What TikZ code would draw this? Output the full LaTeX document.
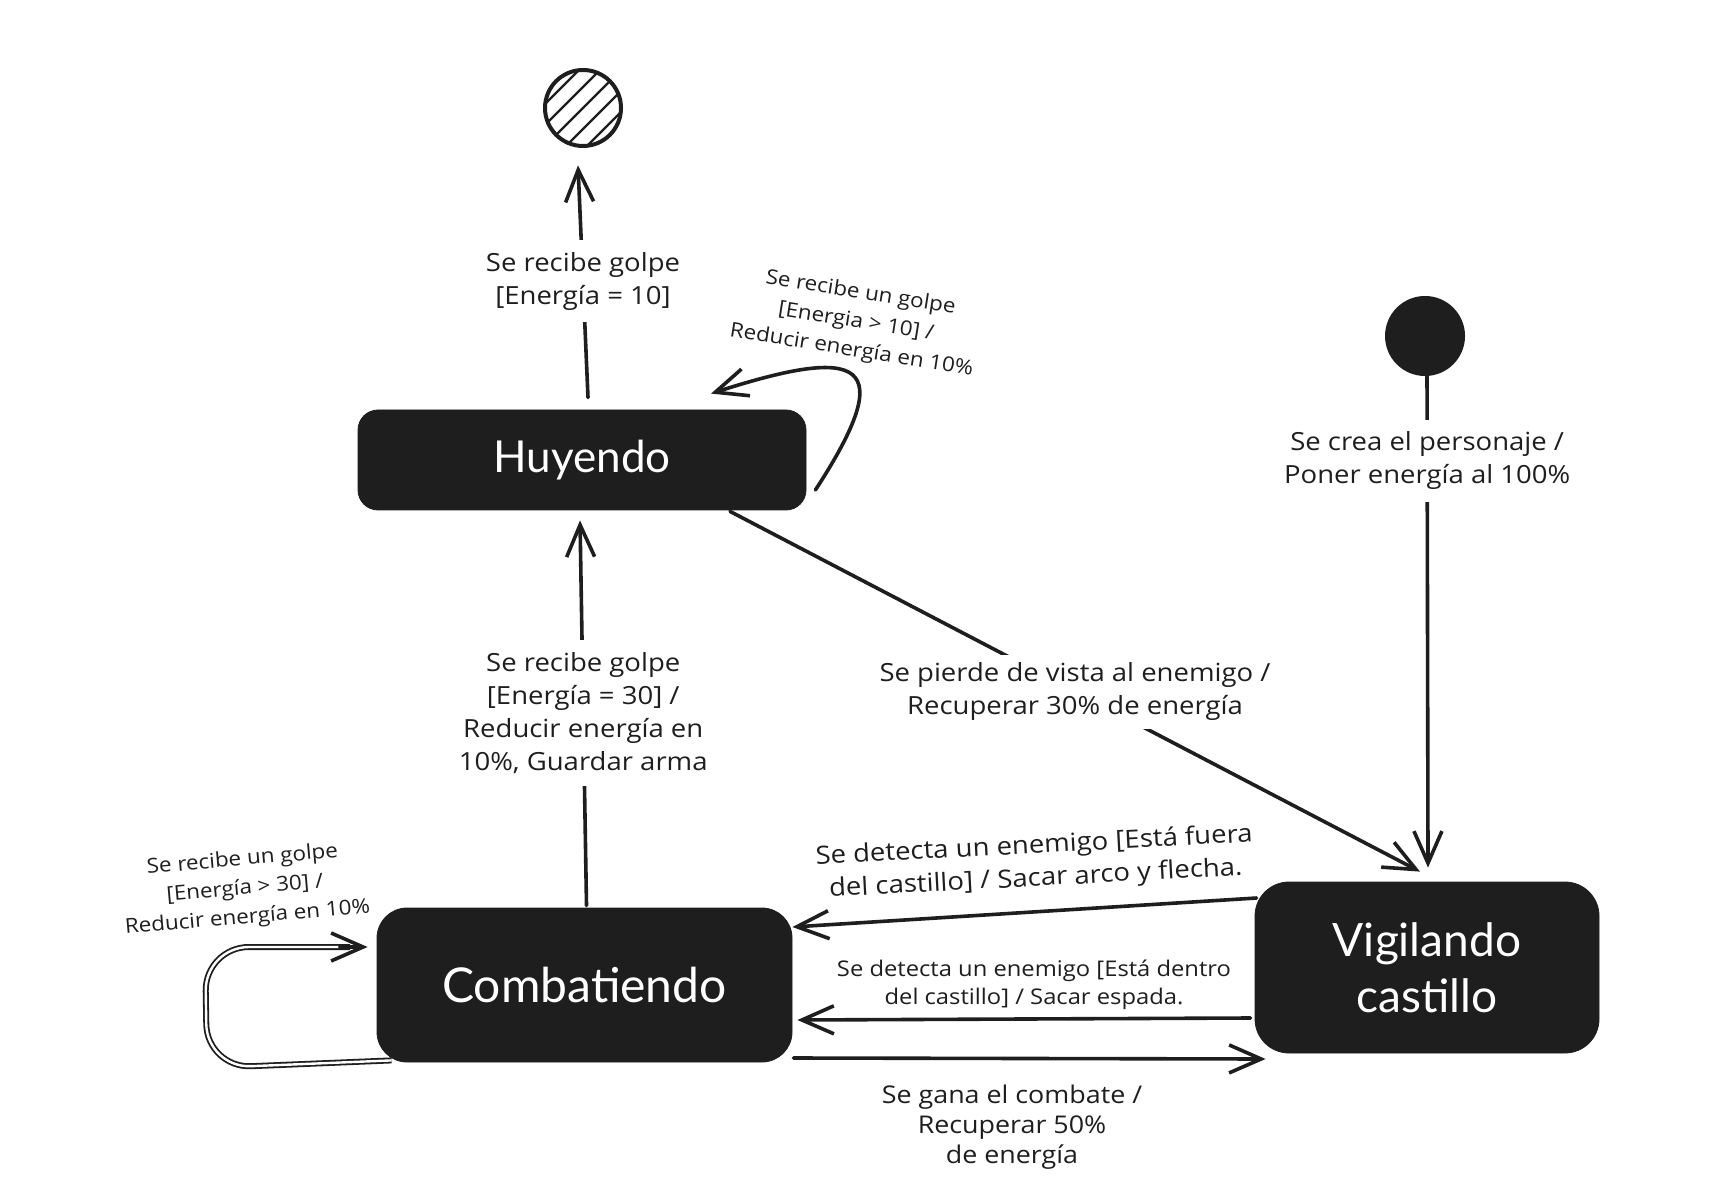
\documentclass[tikz,border=0pt]{standalone}
\usepackage{fontspec}
\setmainfont{Open Sans}[FakeStretch=1.1]
\newfontfamily\boxfont{Lato}
\usetikzlibrary{arrows.meta,calc}
\definecolor{ink}{HTML}{1E1E1E}
\begin{document}
\begin{tikzpicture}[x=0.5pt,y=-0.5pt,
  state/.style={fill=ink, draw=ink, text=white, align=center, inner sep=0pt},
  tipA/.tip={Straight Barb[length=16pt,width=14pt]},
  arr/.style={draw=ink, line width=1.8pt, line cap=round, -tipA},
  lbl/.style={font=\fontsize{12.5}{16.5}\selectfont, align=center, fill=white, inner sep=6pt, text=ink},
  mlbl/.style={font=\fontsize{10.8}{14}\selectfont, align=center, text=ink},
  slbl/.style={font=\fontsize{10.2}{14.5}\selectfont, align=center, text=ink},
]
\fill[white] (0,0) rectangle (1716,1186);
\useasboundingbox (0,0) rectangle (1716,1186);

% states
\node[state, minimum width=224pt, minimum height=50pt, rounded corners=10pt,
      font=\boxfont\fontsize{22}{26}\selectfont] (H) at (582,460) {Huyendo};
\node[state, minimum width=207.5pt, minimum height=77pt, rounded corners=15pt,
      font=\boxfont\fontsize{24}{28}\selectfont] (C) at (584.5,985) {Combatiendo};
\node[state, minimum width=172pt, minimum height=85.5pt, rounded corners=17pt,
      font=\boxfont\fontsize{23}{28}\selectfont] (V) at (1427,967.5) {Vigilando\\castillo};

% final state (hatched)
\node[circle, minimum size=38pt, inner sep=0pt] (F) at (583,108) {};
\begin{scope}
  \clip (F.center) circle [radius=19pt];
  \foreach \k in {-3,...,3}
    \draw[ink, line width=1.1pt] ($(F.center)+(\k*21,0)+(-60,60)$) -- ($(F.center)+(\k*21,0)+(60,-60)$);
\end{scope}
\draw[ink, line width=2pt] (F.center) circle [radius=19pt];

% initial state
\node[circle, fill=ink, minimum size=40pt, inner sep=0pt] (I) at (1425,336) {};

% connector anchors
\coordinate (h1) at ($(H.north)+(6,-12)$);
\coordinate (f1) at ($(F.south)+(-5,19)$);
\coordinate (c1) at ($(C.north)+(2,-2)$);
\coordinate (h2) at ($(H.south)+(-2,10)$);
\coordinate (h3) at ($(H.south)+(148,1)$);
\coordinate (v1) at ($(V.north)+(-7,-10)$);
\coordinate (i1) at ($(I.south)+(2,0)$);
\coordinate (v2) at ($(V.north)+(1,-14)$);
\coordinate (v3) at ($(V.west)+(2,-69.5)$);
\coordinate (c2) at ($(C.east)+(0,-58)$);
\coordinate (v4) at ($(V.west)+(-4,50.5)$);
\coordinate (c3) at ($(C.east)+(5,35)$);
\coordinate (c4) at ($(C.east)+(1,73)$);
\coordinate (v5) at ($(V.west)+(11,91.5)$);
\coordinate (hl1) at ($(H.east)+(9,30)$);
\coordinate (hl2) at ($(H.north)+(129,-16)$);
\coordinate (cl1) at ($(C.south west)+(15,-2)$);
\coordinate (cl2) at ($(C.west)+(-9,-38)$);

% Huyendo -> final
\draw[arr] (h1) -- node[lbl] {Se recibe golpe\\{}[Energía = 10]} (f1);

% Huyendo self loop
\draw[arr] (hl1) .. controls (900,360) and (862,345) .. (hl2);
\node[slbl, rotate=-9] (lh) at (856,322) {Se recibe un golpe\\{}[Energia > 10] /\\Reducir energía en 10\%};

% Combatiendo -> Huyendo
\draw[arr] (c1) -- node[lbl] {Se recibe golpe\\{}[Energía = 30] /\\Reducir energía en\\10\%, Guardar arma} (h2);

% Huyendo -> Vigilando
\draw[arr] (h3) -- node[lbl, inner sep=4pt, pos=0.5] {Se pierde de vista al enemigo /\\Recuperar 30\% de energía} (v1);

% initial -> Vigilando
\draw[arr] (i1) -- node[lbl, pos=0.172] {Se crea el personaje /\\Poner energía al 100\%} (v2);

% Vigilando -> Combatiendo (fuera)
\draw[arr] (v3) -- (c2);
\node[lbl, fill=none, inner sep=0pt, rotate=3] (l6) at (1035,863) {Se detecta un enemigo [Está fuera\\del castillo] / Sacar arco y flecha.};

% Vigilando -> Combatiendo (dentro)
\draw[arr] (v4) -- (c3);
\node[mlbl] (l7) at (1034,985) {Se detecta un enemigo [Está dentro\\del castillo] / Sacar espada.};

% Combatiendo -> Vigilando
\draw[arr] (c4) -- (v5);
\node[lbl, fill=none, inner sep=0pt, font=\fontsize{12.2}{15}\selectfont] (l8) at (1012,1127) {Se gana el combate /\\Recuperar 50\%\\de energía};

% Combatiendo self loop (double stroke)
\draw[ink, double=white, double distance=1.2pt, line width=0.9pt, rounded corners=22pt]
  (cl1) -- (207,1068) -- (205,947) -- (350,947);
\draw[arr] (340,947) -- (cl2);
\node[slbl, rotate=5] (lc) at (245,889) {Se recibe un golpe\\{}[Energía > 30] /\\Reducir energía en 10\%};

\end{tikzpicture}
\end{document}
